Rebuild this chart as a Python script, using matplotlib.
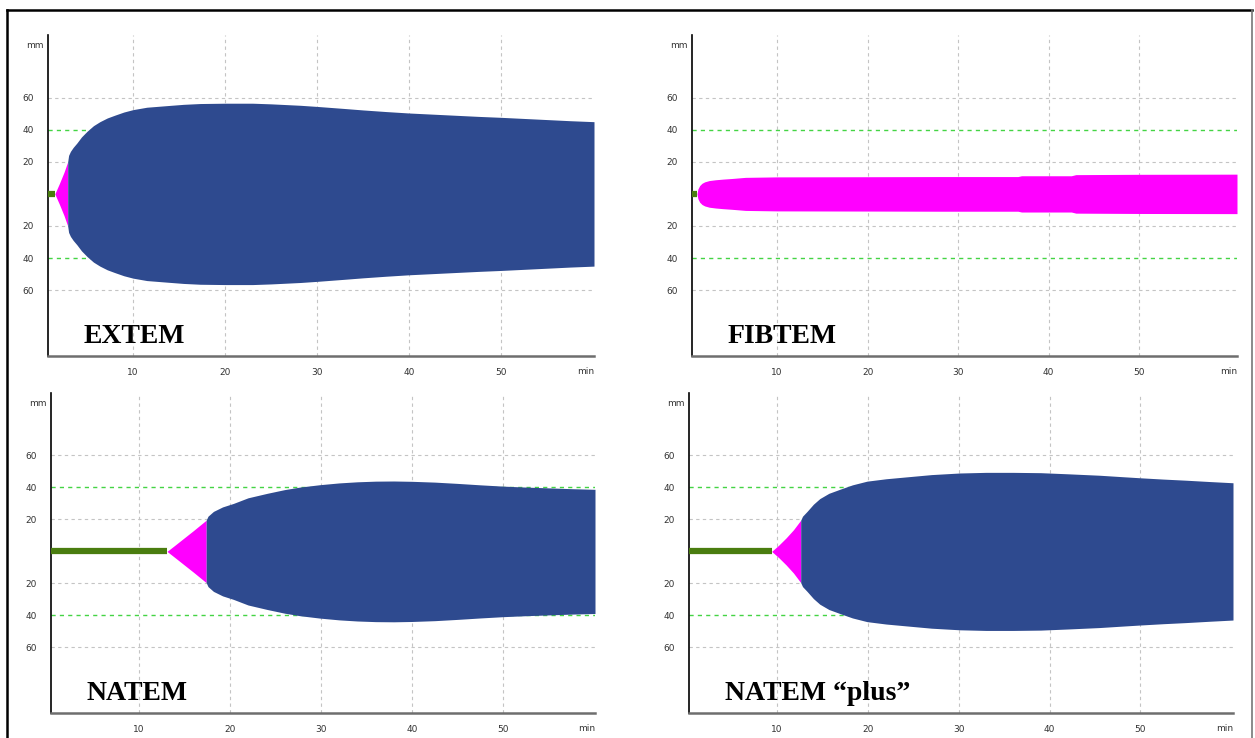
#LIBRARIES
import numpy as np
import matplotlib.pyplot as plt
from matplotlib.lines import Line2D

#DATA (time in min, half amplitude in mm)
names = ['EXTEM', 'FIBTEM', 'NATEM', 'NATEM \u201cplus\u201d']
x_start = [0.76, 0.6, 0.36, 0.3]

# clotting time = end of the flat green line
ct = [1.5, 1.15, 13.1, 9.4]

# pink part (up to 20 mm)
pink_t = [
    [1.5, 2.0, 2.5, 2.9],
    [1.15, 1.25, 1.45, 1.7, 2.0, 2.5, 3.2, 4.0, 5.0, 6.5, 10, 20, 28, 36.6, 37, 42.5, 43, 50, 60.8],
    [13.1, 14.0, 15.0, 16.0, 17.4],
    [9.4, 10.2, 11.0, 11.8, 12.6],
]
pink_a = [
    [0, 6.5, 13.5, 20],
    [0, 3.0, 5.2, 6.6, 7.5, 8.3, 8.8, 9.2, 9.6, 10.3, 10.6, 10.7, 10.8, 10.8, 11.3, 11.3, 12.0, 12.2, 12.3],
    [0, 4.0, 8.5, 13.0, 19.5],
    [0, 4.0, 8.5, 13.5, 19.5],
]

# blue part (after 20 mm)
blue_t = [
    [2.9, 3.0, 3.2, 3.5, 3.9, 4.4, 5.0, 5.7, 6.4, 7.2, 8, 9, 10, 11.5, 13.7, 15.5, 17.3, 20, 23,
     25, 28.2, 30, 33, 35, 37.5, 40, 42.5, 45, 47.5, 50, 52.5, 55, 57.5, 60.1],
    [],
    [17.4, 17.6, 18.2, 19.2, 20.4, 22, 24.1, 26, 27.7, 29.9, 32, 34, 36, 38, 40, 42.5, 45, 47.5,
     50, 52.5, 55, 57.5, 60.1],
    [12.6, 12.8, 13.3, 14, 14.7, 15.7, 16.9, 18.3, 19.9, 22, 24.3, 27, 30.1, 33, 36, 39, 42,
     45.5, 48, 50, 52.5, 55, 57.5, 60.2],
]
blue_a = [
    [20, 24, 26.5, 29, 31.7, 35.5, 39, 42.5, 45, 47.3, 49, 51, 52.5, 54, 55, 55.8, 56.3, 56.5, 56.5,
     56.1, 55.2, 54.5, 53.2, 52.3, 51.3, 50.4, 49.7, 49, 48.3, 47.7, 47, 46.3, 45.6, 45],
    [],
    [19.5, 22, 25, 27.8, 30, 33.5, 36.3, 38.6, 40.2, 41.7, 42.8, 43.5, 43.9, 44, 43.8, 43.3, 42.5,
     41.6, 40.8, 40.2, 39.7, 39.2, 38.8],
    [19.5, 22, 25, 29.5, 33, 36.3, 38.8, 41.6, 43.9, 45.4, 46.6, 48, 49, 49.4, 49.4, 49.2, 48.5,
     47.6, 46.7, 46, 45.2, 44.5, 43.7, 42.9],
]

x_ticks = [10, 20, 30, 40, 50]
y_ticks = [60, 40, 20, -20, -40, -60]
y_labels = ['60', '40', '20', '20', '40', '60']

#COLOURS
BLUE = '#2e4a8f'
PINK = '#ff00ff'
GREEN = '#4a7d0f'
GRID = '#c4c4c4'
GRID_GREEN = '#44d444'

#FIGURE
fig = plt.figure(figsize=(12.55, 7.38), dpi=100)
W, H = 1255, 738
# axes boxes in pixels: left, right, top, bottom
boxes = [(48, 594, 35, 356), (692, 1237, 35, 356),
         (51, 595, 393, 713), (689, 1233, 393, 713)]

for i, (l, r, t, b) in enumerate(boxes):
    ax = fig.add_axes([l / W, (H - b) / H, (r - l) / W, (b - t) / H])
    xmax = pink_t[i][-1] if not blue_t[i] else blue_t[i][-1]
    ax.set_xlim(x_start[i], xmax)
    ax.set_ylim(-101, 99)

    # grid
    for xv in x_ticks:
        ax.axvline(xv, color=GRID, lw=0.8, ls=(0, (3, 3)), zorder=0)
    for yv in y_ticks:
        if abs(yv) == 40:
            ax.axhline(yv, color=GRID_GREEN, lw=1.0, ls=(0, (3, 3)), zorder=1)
        else:
            ax.axhline(yv, color=GRID, lw=0.8, ls=(0, (3, 3)), zorder=0)

    # trace
    ax.plot([x_start[i], ct[i]], [0, 0], color=GREEN, lw=4.5,
            solid_capstyle='butt', zorder=3)
    pt = np.array(pink_t[i])
    pa = np.array(pink_a[i])
    ax.fill_between(pt, -pa, pa, color=PINK, lw=0, zorder=2)
    if blue_t[i]:
        bt = np.array(blue_t[i])
        ba = np.array(blue_a[i])
        ax.fill_between(bt, -ba, ba, color=BLUE, lw=0, zorder=2)

    # axes look
    for s in ['top', 'right']:
        ax.spines[s].set_visible(False)
    ax.spines['left'].set_color('black')
    ax.spines['left'].set_linewidth(1.2)
    ax.spines['bottom'].set_color('#6e6e6e')
    ax.spines['bottom'].set_linewidth(1.8)
    ax.set_xticks(x_ticks)
    ax.set_yticks(y_ticks)
    ax.set_yticklabels(y_labels)
    ax.tick_params(length=0, labelsize=6.5, colors='#333333')
    ax.tick_params(axis='y', pad=10)
    ax.tick_params(axis='x', pad=9)
    ax.text(-0.008, 0.968, 'mm', transform=ax.transAxes, ha='right',
            va='center', fontsize=6.5, color='#333333')
    ax.text(1.0, -0.034, 'min', transform=ax.transAxes, ha='right',
            va='top', fontsize=6.5, color='#333333')

    ax.text(0.066, 0.04, names[i], transform=ax.transAxes, ha='left',
            va='baseline', fontsize=20, fontweight='bold',
            family='Liberation Serif', color='black')

# outer frame
fig.add_artist(Line2D([7 / W, 7 / W], [0, 1 - 10 / H], color='black', lw=1.8))
fig.add_artist(Line2D([7 / W, 1252 / W], [1 - 10 / H, 1 - 10 / H], color='black', lw=1.8))
fig.add_artist(Line2D([1252 / W, 1252 / W], [0, 1 - 10 / H], color='#777777', lw=1.2))

plt.savefig('out.png', dpi=100)
